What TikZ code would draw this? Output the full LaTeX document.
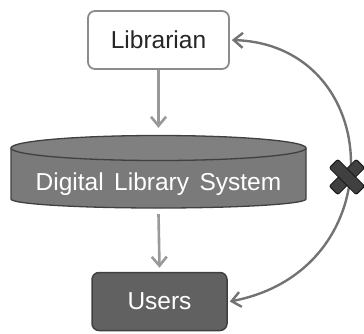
\documentclass[tikz,border=0pt]{standalone}
\usepackage{fontspec}
\setmainfont{Liberation Sans}
\usetikzlibrary{arrows.meta}
\begin{document}
\begin{tikzpicture}[x=1pt,y=1pt,
  lbl/.style={font=\fontsize{24.5}{28}\selectfont},
  librbox/.style={draw=black!45,line width=1.8pt,fill=white,rounded corners=7pt,
    minimum width=141pt,minimum height=58pt,lbl,text=black!85},
  userbox/.style={draw=black!75,line width=1.5pt,fill=black!62,rounded corners=7pt,
    minimum width=135pt,minimum height=58pt,lbl,text=white},
  flow/.style={draw=black!40,line width=2.6pt,-{Straight Barb[length=9pt,width=15pt,line width=2.6pt]}},
  link/.style={draw=black!55,line width=2.4pt,{Straight Barb[length=9pt,width=15pt,line width=2.4pt]}-{Straight Barb[length=9pt,width=15pt,line width=2.4pt]}},
  crossbar/.style={draw=black!90,line width=1pt,fill=black!75,rounded corners=2pt,
    minimum width=38pt,minimum height=12pt,inner sep=0pt}
]
\useasboundingbox (0,0) rectangle (364,-333);
% Librarian
\node[librbox] (lib) at (158.5,-40) {Librarian};
% Cylinder
\fill[black!52] (11,-148) -- (11,-199) arc[start angle=180,end angle=360,x radius=147.5,y radius=9] -- (306,-148) arc[start angle=0,end angle=180,x radius=147.5,y radius=12.5] -- cycle;
\draw[black!75,line width=1.3pt] (11,-148) -- (11,-199) arc[start angle=180,end angle=360,x radius=147.5,y radius=9] -- (306,-148);
\draw[black!75,line width=1.3pt,fill=black!50] (158.5,-148) ellipse[x radius=147.5,y radius=12.5];
\node[minimum width=295pt,minimum height=72pt,inner sep=0pt] (dls) at (158.5,-172) {};
\node[lbl,text=white,inner sep=0pt] (dlstext) at (158.5,-184) {Digital\hspace{0.15em} Library\hspace{0.15em} System};
% Users
\node[userbox] (usr) at (159.5,-301.5) {Users};
% flows
\draw[flow] (lib.south) -- ([yshift=8pt]dls.north);
\draw[flow] ([yshift=-6pt]dls.south) -- ([yshift=4pt]usr.north);
% curved link
\draw[link] ([xshift=2pt]lib.east) .. controls (385,-45) and (395,-270) .. ([xshift=2pt]usr.east);
% cross mark
\coordinate (xm) at (347,-177);
\node[crossbar,rotate=45] (crossa) at (xm) {};
\node[crossbar,rotate=-45] (crossb) at (xm) {};
\end{tikzpicture}
\end{document}
